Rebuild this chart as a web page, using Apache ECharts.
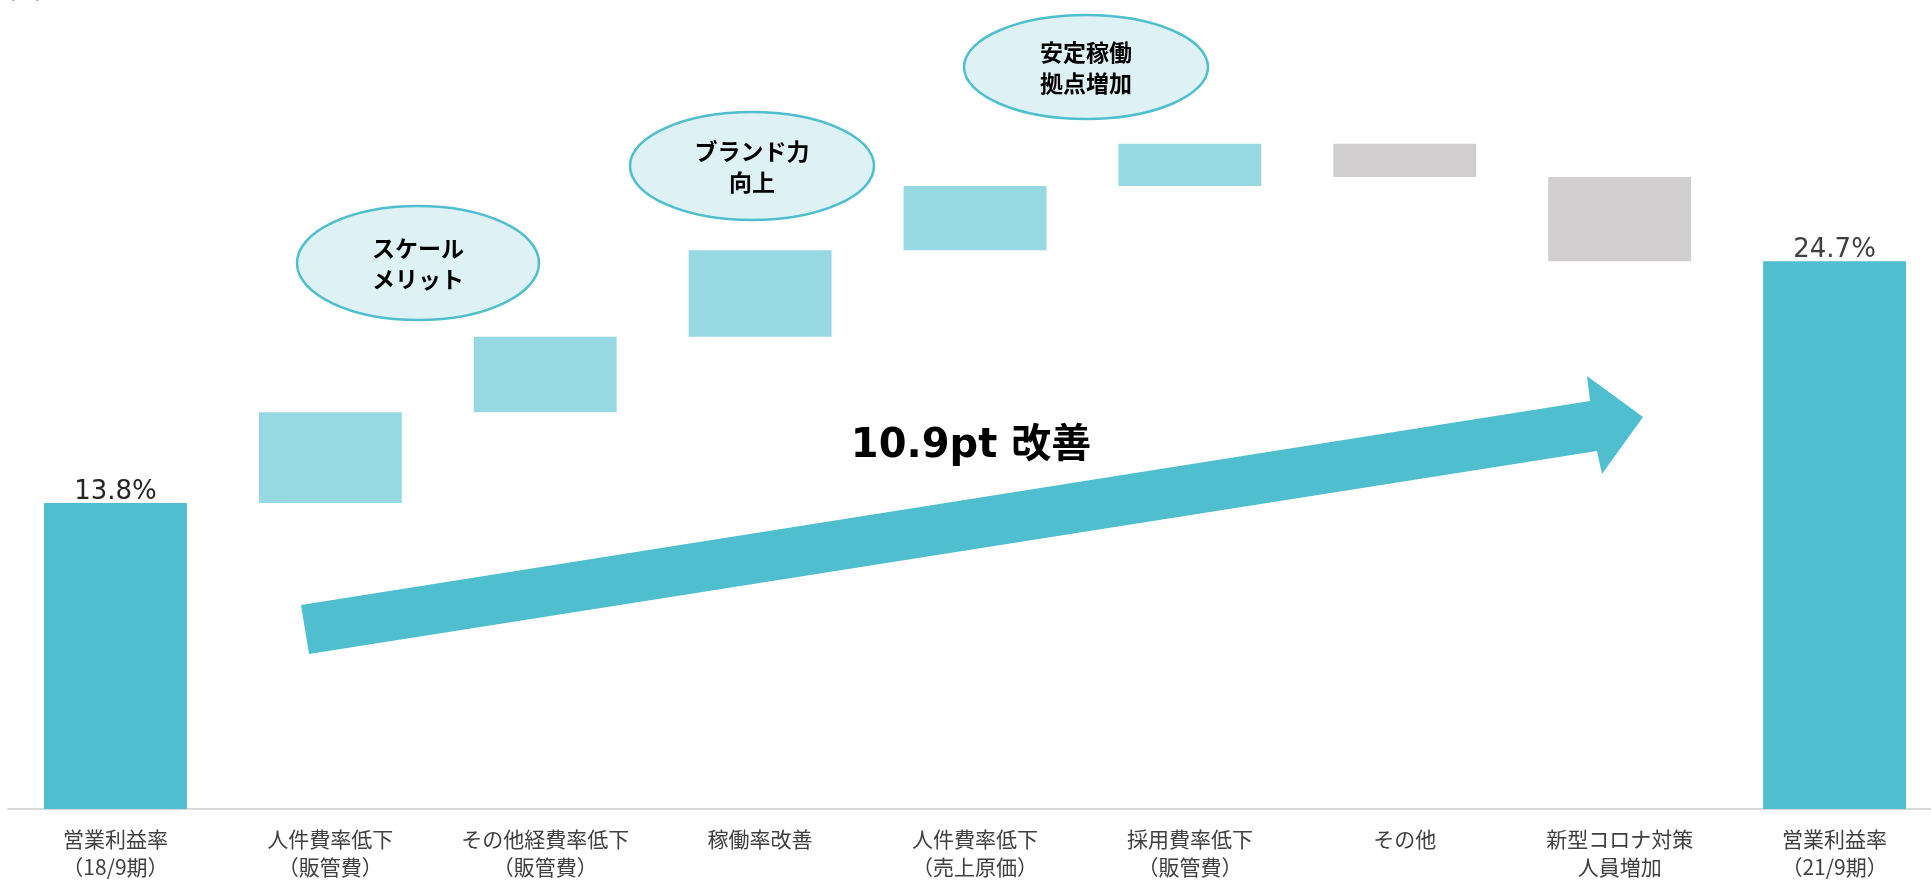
<!DOCTYPE html>
<html lang="ja">
<head>
<meta charset="utf-8">
<title>営業利益率 改善要因</title>
<script src="https://cdn.jsdelivr.net/npm/echarts@6/dist/echarts.min.js"></script>
<style>
  html, body { margin: 0; padding: 0; background: #ffffff; overflow: hidden; }
  #chart { width: 1942px; height: 881px; }
</style>
</head>
<body>
<div id="chart"></div>
<script>
// Operating margin bridge, FY18/9 → FY21/9 (%)
const categories = [
  '営業利益率\n（18/9期）',
  '人件費率低下\n（販管費）',
  'その他経費率低下\n（販管費）',
  '稼働率改善',
  '人件費率低下\n（売上原価）',
  '採用費率低下\n（販管費）',
  'その他',
  '新型コロナ対策\n人員増加',
  '営業利益率\n（21/9期）'
];
const startValue = [13.8];
const deltas = [4.1, 3.4, 3.9, 2.9, 1.9, -1.5, -3.8];
const endValue = [24.7];
const bubbleTexts = ['スケール\nメリット', 'ブランド力\n向上', '安定稼働\n拠点増加'];
const headline = ['10.9pt 改善'];

const COLOR_TOTAL = '#4FBECE';
const COLOR_UP = '#97D9E2';
const COLOR_DOWN = '#D0CECF';

// Floating-bar construction: invisible base + visible segment
const round1 = v => Math.round(v * 10) / 10;
const baseData = [0];
const segData = [{
  value: startValue[0],
  itemStyle: { color: COLOR_TOTAL },
  label: { show: true }
}];
let running = startValue[0];
deltas.forEach(d => {
  if (d >= 0) {
    baseData.push(round1(running));
    running = round1(running + d);
    segData.push({ value: d, itemStyle: { color: COLOR_UP } });
  } else {
    running = round1(running + d);
    baseData.push(running);
    segData.push({ value: -d, itemStyle: { color: COLOR_DOWN } });
  }
});
baseData.push(0);
segData.push({
  value: endValue[0],
  itemStyle: { color: COLOR_TOTAL },
  label: { show: true, color: '#404040' }
});

const chart = echarts.init(document.getElementById('chart'), null, { renderer: 'canvas' });

const bubbles = [
  { cx: 418, cy: 263, rx: 121, ry: 57 },
  { cx: 752, cy: 166, rx: 122, ry: 54 },
  { cx: 1086, cy: 67, rx: 122, ry: 52 }
];

const graphics = [];
// unit caption, mostly above the canvas edge
graphics.push({
  type: 'text', left: 8, top: -17, silent: true,
  style: { text: '(%)', fontSize: 20, fontFamily: 'DejaVu Sans', fill: '#222' }
});
bubbles.forEach((b, i) => {
  graphics.push({
    type: 'ellipse', silent: true,
    shape: { cx: b.cx, cy: b.cy, rx: b.rx, ry: b.ry },
    style: { fill: '#DEF1F4', stroke: COLOR_TOTAL, lineWidth: 2.5 }
  });
  graphics.push({
    type: 'text', silent: true, x: b.cx, y: b.cy + 1,
    style: {
      text: bubbleTexts[i], align: 'center', verticalAlign: 'middle',
      fontSize: 23, fontWeight: 'bold', lineHeight: 31,
      fontFamily: '"Noto Sans CJK JP", sans-serif', fill: '#000'
    }
  });
});
// trend arrow
graphics.push({
  type: 'polygon', silent: true,
  shape: {
    points: [[301, 605], [1590, 401], [1587, 376], [1643, 417], [1602, 474], [1597, 451], [309, 654]]
  },
  style: { fill: COLOR_TOTAL }
});
graphics.push({
  type: 'text', silent: true, x: 971, y: 447,
  style: {
    text: headline[0], align: 'center', verticalAlign: 'middle',
    fontSize: 40, fontWeight: 'bold',
    fontFamily: '"DejaVu Sans", "Noto Sans CJK JP", sans-serif', fill: '#000'
  }
});

chart.setOption({
  animation: false,
  backgroundColor: '#ffffff',
  grid: { left: 8, right: 0, top: 33, bottom: 71, containLabel: false },
  xAxis: {
    type: 'category',
    data: categories,
    axisLine: { show: true, lineStyle: { color: '#d9d9d9', width: 2 } },
    axisTick: { show: false },
    axisLabel: {
      interval: 0, margin: 16,
      fontSize: 21, lineHeight: 28, color: '#404040',
      fontFamily: '"Noto Sans CJK JP", sans-serif'
    }
  },
  yAxis: {
    type: 'value', min: 0, max: 35, show: false,
    splitLine: { show: false }
  },
  series: [
    {
      type: 'bar', stack: 'bridge', silent: true,
      barWidth: '66.5%',
      itemStyle: { color: 'rgba(0,0,0,0)' },
      data: baseData
    },
    {
      type: 'bar', stack: 'bridge', silent: true,
      barWidth: '66.5%',
      label: {
        show: false, position: 'top', distance: -2,
        fontSize: 26, color: '#262626',
        fontFamily: '"DejaVu Sans", sans-serif',
        formatter: p => p.value.toFixed(1) + '%'
      },
      data: segData
    }
  ],
  graphic: graphics
});
</script>
</body>
</html>
